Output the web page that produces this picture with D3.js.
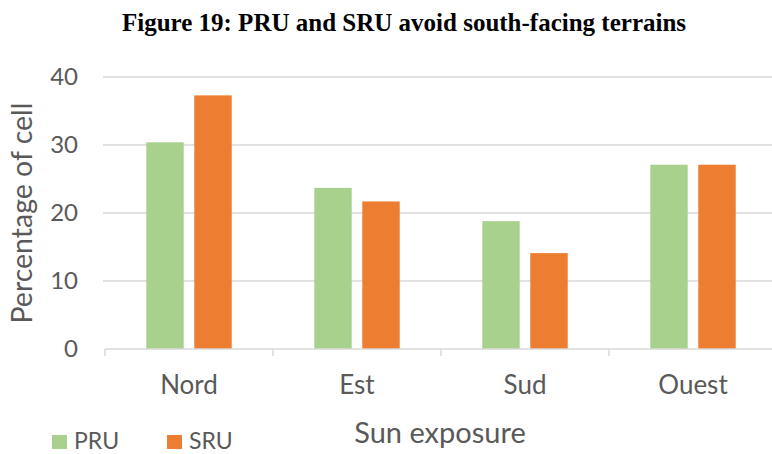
<!DOCTYPE html>
<html>
<head>
<meta charset="utf-8">
<script src="https://cdn.jsdelivr.net/npm/d3@7"></script>
<style>
  body { margin: 0; background: #fff; }
  svg { display: block; }
</style>
</head>
<body>
<div id="chart"></div>
<script>
// data
const categories = ["Nord", "Est", "Sud", "Ouest"];
const seriesNames = ["PRU", "SRU"];
const pru = [30.4, 23.7, 18.8, 27.1];
const sru = [37.3, 21.7, 14.1, 27.1];
const yTicks = [0, 10, 20, 30, 40];
const colors = ["#a9d18e", "#ed7d31"];

const width = 772, height = 454;
const margin = { top: 77, right: -5, bottom: 105, left: 105 };
const font = "Lato, 'Open Sans', sans-serif";

const svg = d3.select("#chart")
  .append("svg")
  .attr("width", width)
  .attr("height", height);

const x = d3.scaleBand()
  .domain(categories)
  .range([margin.left, width - margin.right]);

const xInner = d3.scaleBand()
  .domain(seriesNames)
  .range([0, x.bandwidth()])
  .paddingInner(0.22)
  .paddingOuter(0.86);

const y = d3.scaleLinear()
  .domain([0, 40])
  .range([height - margin.bottom, margin.top]);

// title
svg.append("text")
  .attr("x", 404).attr("y", 31)
  .attr("text-anchor", "middle")
  .style("font-family", "'Liberation Serif', 'Times New Roman', serif")
  .style("font-weight", "bold")
  .style("font-size", "25px")
  .text("Figure 19: PRU and SRU avoid south-facing terrains");

// gridlines
svg.append("g")
  .selectAll("line")
  .data(yTicks.filter(d => d > 0))
  .join("line")
  .attr("x1", 103).attr("x2", width)
  .attr("y1", d => y(d)).attr("y2", d => y(d))
  .attr("stroke", "#d9d9d9")
  .attr("stroke-width", 1.5);

// y axis labels
const yAxis = d3.axisLeft(y).tickValues(yTicks).tickSize(0).tickPadding(27);
svg.append("g")
  .attr("transform", "translate(" + margin.left + ",0)")
  .call(yAxis)
  .call(g => g.select(".domain").remove())
  .selectAll("text")
  .attr("fill", "#595959")
  .style("font-family", font)
  .style("font-size", "24px");

// bars
const rows = categories.map((c, i) => ({ cat: c, values: [pru[i], sru[i]] }));
svg.append("g")
  .selectAll("g")
  .data(rows)
  .join("g")
  .attr("transform", d => "translate(" + x(d.cat) + ",0)")
  .selectAll("rect")
  .data(d => d.values.map((v, k) => ({ name: seriesNames[k], value: v, k: k })))
  .join("rect")
  .attr("x", d => xInner(d.name))
  .attr("width", xInner.bandwidth())
  .attr("y", d => y(d.value))
  .attr("height", d => y(0) - y(d.value))
  .attr("fill", d => colors[d.k]);

// x axis
const xAxisG = svg.append("g")
  .attr("transform", "translate(0," + y(0) + ")");
xAxisG.append("line")
  .attr("x1", margin.left).attr("x2", width)
  .attr("stroke", "#d9d9d9").attr("stroke-width", 1.5);
xAxisG.selectAll("line.tick")
  .data(categories)
  .join("line")
  .attr("class", "tick")
  .attr("x1", d => x(d)).attr("x2", d => x(d))
  .attr("y1", 0).attr("y2", 7)
  .attr("stroke", "#d9d9d9").attr("stroke-width", 1.5);
xAxisG.selectAll("text")
  .data(categories)
  .join("text")
  .attr("x", d => x(d) + x.bandwidth() / 2)
  .attr("y", 45)
  .attr("text-anchor", "middle")
  .attr("fill", "#595959")
  .style("font-family", font)
  .style("font-size", "26px")
  .text(d => d);

// axis titles
svg.append("text")
  .attr("x", 440).attr("y", 443)
  .attr("text-anchor", "middle")
  .attr("fill", "#595959")
  .style("font-family", font)
  .style("font-size", "29px")
  .text("Sun exposure");

svg.append("text")
  .attr("transform", "translate(32," + 213 + ") rotate(-90)")
  .attr("text-anchor", "middle")
  .attr("fill", "#595959")
  .style("font-family", font)
  .style("font-size", "28.5px")
  .text("Percentage of cell");

// legend
const legend = svg.append("g")
  .selectAll("g")
  .data(seriesNames)
  .join("g")
  .attr("transform", (d, i) => "translate(" + (52 + i * 115) + ",435)");
legend.append("rect")
  .attr("width", 15).attr("height", 14)
  .attr("fill", (d, i) => colors[i]);
legend.append("text")
  .attr("x", 22).attr("y", 14)
  .attr("fill", "#595959")
  .style("font-family", font)
  .style("font-size", "23px")
  .text(d => d);
</script>
</body>
</html>
